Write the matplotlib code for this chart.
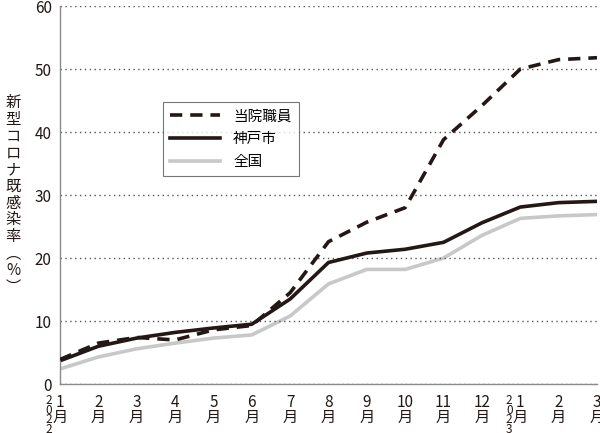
import matplotlib
matplotlib.use("Agg")
import matplotlib.pyplot as plt

plt.rcParams['font.family'] = ['Noto Sans CJK JP', 'DejaVu Sans']

# Data
months = ["1", "2", "3", "4", "5", "6", "7", "8", "9", "10", "11", "12", "1", "2", "3"]
staff = [3.9, 6.5, 7.4, 7.0, 8.6, 9.3, 14.5, 22.6, 25.7, 28.0, 38.8, 44.2, 50.0, 51.5, 51.8]
kobe = [3.7, 6.0, 7.3, 8.2, 8.9, 9.5, 13.5, 19.3, 20.8, 21.4, 22.5, 25.6, 28.1, 28.8, 29.0]
japan = [2.4, 4.3, 5.6, 6.5, 7.3, 7.8, 10.8, 15.9, 18.2, 18.2, 20.0, 23.6, 26.3, 26.7, 26.9]
years = ["2022", "2023"]
ylabel = "新型コロナ既感染率"

fig = plt.figure(figsize=(6, 4.33), dpi=100)
ax = fig.add_axes([0.1, 0.113, 0.895, 0.873])

x = list(range(len(months)))
ax.plot(x, staff, color="#231815", lw=2.6, ls=(0, (3.4, 2.2)), label="当院職員", zorder=3)
ax.plot(x, kobe, color="#231815", lw=2.6, label="神戸市", zorder=2)
ax.plot(x, japan, color="#c8c8c8", lw=2.6, label="全国", zorder=1)

ax.set_xlim(0, len(months) - 1)
ax.set_ylim(0, 60)
ax.set_yticks(range(0, 61, 10))
ax.tick_params(axis="y", length=0, labelsize=11, pad=6, colors="#231815")
ax.tick_params(axis="x", length=0, labelsize=11, pad=7, colors="#231815")
ax.set_xticks(x)
ax.set_xticklabels([m + "\n月" for m in months], linespacing=0.88)

ax.grid(axis="y", ls=(0, (1, 2.5)), color="#555555", lw=1)
for s in ["top", "right"]:
    ax.spines[s].set_visible(False)
for s in ["left", "bottom"]:
    ax.spines[s].set_color("#8a8a8a")
    ax.spines[s].set_linewidth(1)

# year labels, one digit per row
for xi, yr in [(0, years[0]), (12, years[1])]:
    for i, ch in enumerate(yr):
        ax.annotate(ch, xy=(xi, 0), xytext=(-11, -10 - i * 9.5), textcoords="offset pixels",
                    ha="center", va="top", fontsize=8.5, color="#231815",
                    annotation_clip=False)

# vertical y label
fig.text(0.022, 0.55, "\n".join(ylabel) + "\n︵\n%\n︶", ha="center", va="center",
         fontsize=11, linespacing=0.98, color="#231815")

leg = ax.legend(loc="upper left", bbox_to_anchor=(0.192, 0.746), borderaxespad=0,
                frameon=True, fancybox=False, edgecolor="#555555", fontsize=10.5,
                handlelength=3.4, borderpad=0.5, labelspacing=0.6, handletextpad=0.9)
leg.get_frame().set_linewidth(0.8)

fig.savefig("out.png", dpi=100)
